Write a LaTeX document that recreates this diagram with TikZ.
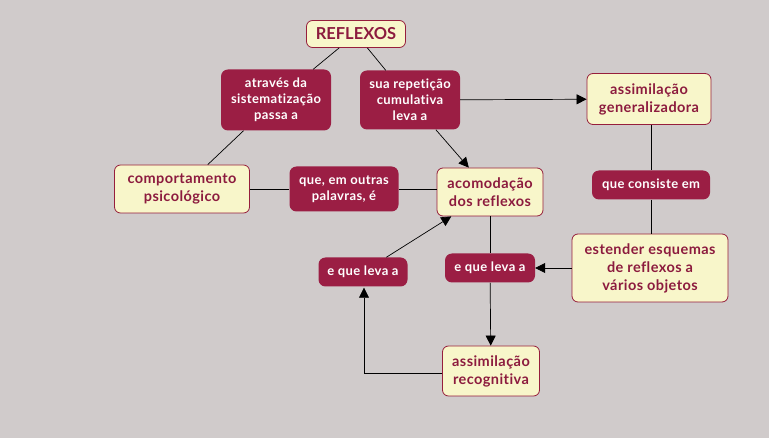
\documentclass[tikz,border=0pt]{standalone}
\usepackage{fontspec}
\setmainfont[Ligatures=NoCommon]{Lato}
\newfontfamily\spaced[LetterSpace=3,Ligatures=NoCommon]{Lato}
\usetikzlibrary{arrows.meta}
\definecolor{bgc}{RGB}{208,203,203}
\definecolor{cfill}{RGB}{248,246,202}
\definecolor{cdraw}{RGB}{150,30,60}
\definecolor{ctext}{RGB}{140,27,62}
\definecolor{lfill}{RGB}{155,30,68}
\begin{document}
\begin{tikzpicture}[x=1pt,y=-1pt,
  concept/.style={draw=cdraw,fill=cfill,rounded corners=6pt,line width=0.8pt,align=center,text=ctext,font=\spaced\fontsize{14.5}{18}\selectfont\bfseries,inner sep=0pt},
  link/.style={fill=lfill,rounded corners=7pt,align=center,text=white,font=\spaced\fontsize{13}{16}\selectfont\bfseries,inner sep=0pt},
  conn/.style={line width=0.7pt,black},
  arr/.style={conn,-{Triangle[length=10pt,width=10pt]}}]
\fill[bgc] (0,0) rectangle (769,438);
\useasboundingbox (0,0) rectangle (769,438);
\node[concept,minimum width=99pt,minimum height=27pt,font=\fontsize{16.5}{18}\selectfont\bfseries] (refl) at (356,34) {REFLEXOS};
\node[link,minimum width=110pt,minimum height=61pt] (atr) at (276,100) {através da\\sistematização\\passa a};
\node[link,minimum width=100pt,minimum height=59pt] (sua) at (410,100) {sua repetição\\cumulativa\\leva a};
\node[concept,minimum width=124pt,minimum height=51pt] (agen) at (649,99) {assimilação\\generalizadora};
\node[concept,minimum width=135pt,minimum height=48pt] (comp) at (182,189) {comportamento\\psicológico};
\node[link,minimum width=109pt,minimum height=45pt] (que) at (344,189) {que, em outras\\palavras, é};
\node[concept,minimum width=106pt,minimum height=48pt] (acom) at (490,192) {acomodação\\dos reflexos};
\node[link,minimum width=118pt,minimum height=29pt] (cons) at (651,185) {que consiste em};
\node[concept,minimum width=156pt,minimum height=68pt] (est) at (650,268) {estender esquemas\\de reflexos a\\vários objetos};
\node[link,minimum width=90pt,minimum height=29pt] (lr) at (490,268) {e que leva a};
\node[link,minimum width=89pt,minimum height=29pt] (ll) at (363,272) {e que leva a};
\node[concept,minimum width=97pt,minimum height=50pt] (arec) at (491,371) {assimilação\\recognitiva};
\coordinate (corner) at (364,373);
\draw[conn] (refl) -- (atr);
\draw[conn] (refl) -- (sua);
\draw[conn] (atr) -- (comp);
\draw[arr] (sua) -- (acom);
\draw[arr] (sua) -- (agen);
\draw[conn] (comp) -- (que);
\draw[conn] (que) -- (acom.west |- que);
\draw[conn] (agen.south -| cons) -- (cons);
\draw[conn] (cons) -- (est.north -| cons);
\draw[arr] (est) -- (lr);
\draw[conn] (acom) -- (lr);
\draw[arr] (lr) -- (arec);
\draw[arr] (arec.west |- corner) -- (corner) -- ([yshift=-1pt]ll.south -| corner);
\draw[arr] (ll) -- (acom);
\end{tikzpicture}
\end{document}
